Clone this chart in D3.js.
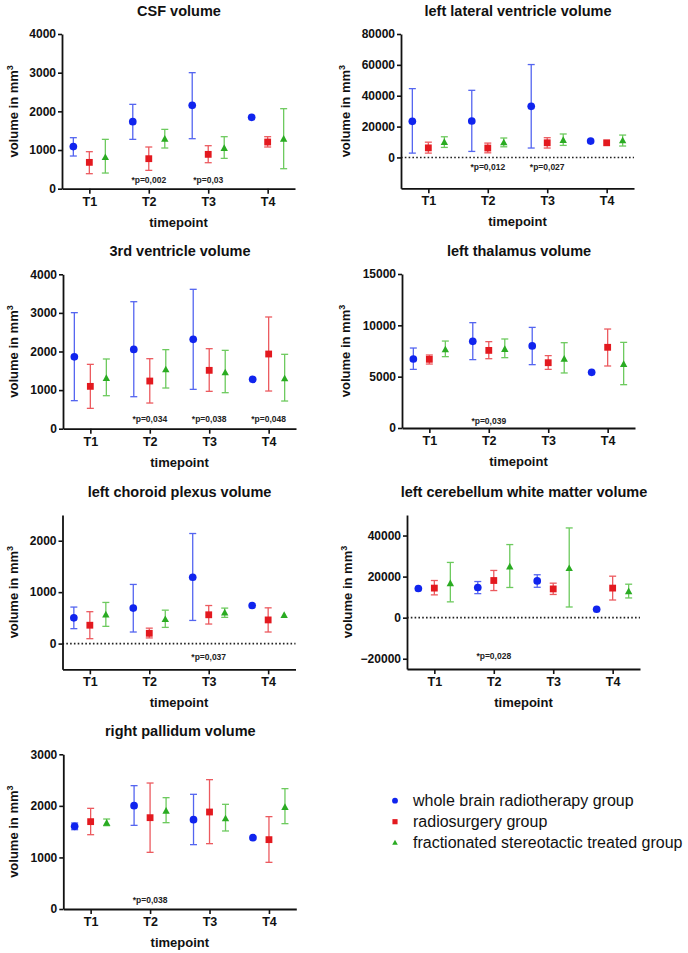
<!DOCTYPE html>
<html><head><meta charset="utf-8">
<script src="https://cdn.jsdelivr.net/npm/d3@7/dist/d3.min.js"></script>
<style>
html,body{margin:0;padding:0;background:#fff;}
svg{display:block;font-family:"Liberation Sans",Arial,Helvetica,sans-serif;}
</style></head>
<body>
<script>
const timepoints = ["T1","T2","T3","T4"];
const groups = ["whole brain radiotherapy group","radiosurgery group","fractionated stereotactic treated group"];
const markerColors = ["#1024ee","#e3191f","#2aab22"];
const barColors = ["#5465f0","#ec5a5f","#6dca5e"];
const shapes = ["circle","square","triangle"];

// CSF volume  (rows: groups, cols: T1..T4)
const csfMean = [[1090,1733,2155,1845],[681,776,888,1207],[810,1284,1043,1284]];
const csfLow  = [[845,1276,1293,null],[388,474,672,1078],[405,1052,784,517]];
const csfHigh = [[1319,2181,3000,null],[957,1078,1112,1345],[1276,1534,1345,2069]];
const csfP = [["T2","*p=0,002"],["T3","*p=0,03"]];

// left lateral ventricle volume
const llvMean = [[23400,23600,33100,10600],[6200,6100,9500,9500],[9800,9600,11100,10900]];
const llvLow  = [[2800,3900,6100,null],[2800,3000,6100,null],[6500,6900,7800,7400]];
const llvHigh = [[44600,43500,60200,null],[9900,9300,12800,null],[13400,12600,15200,14500]];
const llvP = [["T2","*p=0,012"],["T3","*p=0,027"]];

// 3rd ventricle volume
const v3Mean = [[1863,2055,2315,1278],[1097,1235,1512,1935],[1304,1529,1451,1296]];
const v3Low  = [[726,829,1019,null],[527,665,968,976],[855,1054,933,717]];
const v3High = [[3006,3290,3611,null],[1667,1814,2073,2894],[1806,2048,2030,1927]];
const v3P = [["T2","*p=0,034"],["T3","*p=0,038"],["T4","*p=0,048"]];

// left thalamus volume
const thMean = [[6720,8440,7990,5420],[6690,7560,6360,7860],[7630,7660,6720,6200]];
const thLow  = [[5710,6660,6170,null],[6230,6750,5710,6040],[6950,6850,5360,4220]];
const thHigh = [[7790,10260,9800,null],[7110,8410,7050,9640],[8470,8670,8310,8340]];
const thP = [["T2","*p=0,039"]];

// left choroid plexus volume
const cpMean = [[500,690,1290,740],[357,200,560,460],[560,470,600,550]];
const cpLow  = [[290,225,450,null],[95,110,380,225],[335,315,510,null]];
const cpHigh = [[710,1150,2140,null],[620,300,740,695],[800,650,690,null]];
const cpP = [["T3","*p=0,037"]];

// left cerebellum white matter volume
const cbMean = [[14200,14700,17900,4100],[14400,18100,14000,14400],[16600,24800,24000,12700]];
const cbLow  = [[null,11700,14800,null],[11100,13200,11300,8600],[7700,14700,5200,9600]];
const cbHigh = [[null,17600,20900,null],[18100,23000,16800,20200],[26900,35600,43700,16300]];
const cbP = [["T2","*p=0,028"]];

// right pallidum volume
const rpMean = [[1603,2004,1732,1383],[1694,1771,1881,1345],[1668,1900,1752,1972]];
const rpLow  = [[1538,1622,1248,null],[1441,1099,1267,905],[1616,1674,1513,1655]];
const rpHigh = [[1668,2392,2224,null],[1952,2443,2508,1791],[1745,2159,2030,2334]];
const rpP = [["T2","*p=0,038"]];

const panels = [
  {title:"CSF volume", mean:csfMean, low:csfLow, high:csfHigh, p:csfP, pY:217,
   domain:[0,4000], ticks:[0,1000,2000,3000,4000], zero:false,
   ax:62, top:34, bottom:188.7, ylabX:13},
  {title:"left lateral ventricle volume", mean:llvMean, low:llvLow, high:llvHigh, p:llvP, pY:-6300,
   domain:[-20000,80000], ticks:[0,20000,40000,60000,80000], zero:true,
   ax:401, top:34, bottom:188.3, ylabX:345},
  {title:"3rd ventricle volume", mean:v3Mean, low:v3Low, high:v3High, p:v3P, pY:243,
   domain:[0,4000], ticks:[0,1000,2000,3000,4000], zero:false,
   ax:63, top:274.3, bottom:428.7, ylabX:13},
  {title:"left thalamus volume", mean:thMean, low:thLow, high:thHigh, p:thP, pY:680,
   domain:[0,15000], ticks:[0,5000,10000,15000], zero:false,
   ax:402, top:274, bottom:428, ylabX:345},
  {title:"left choroid plexus volume", mean:cpMean, low:cpLow, high:cpHigh, p:cpP, pY:-253,
   domain:[-500,2500], ticks:[0,1000,2000], zero:true,
   ax:62.5, top:515, bottom:669.3, ylabX:13},
  {title:"left cerebellum white matter volume", mean:cbMean, low:cbLow, high:cbHigh, p:cbP, pY:-18800,
   domain:[-25000,50000], ticks:[-20000,0,20000,40000], zero:true,
   ax:407, top:515, bottom:669, ylabX:347},
  {title:"right pallidum volume", mean:rpMean, low:rpLow, high:rpHigh, p:rpP, pY:180,
   domain:[0,3000], ticks:[0,1000,2000,3000], zero:false,
   ax:63.3, top:754.3, bottom:909, ylabX:13}
];

const W = 688, H = 953, plotW = 233;
const svg = d3.select("body").append("svg").attr("width",W).attr("height",H);

function drawMarker(g, shape, color, cx, cy, size) {
  if (shape === "circle") {
    g.append("circle").attr("cx",cx).attr("cy",cy).attr("r",size*0.52).attr("fill",color);
  } else if (shape === "square") {
    const s = size*0.92;
    g.append("rect").attr("x",cx-s/2).attr("y",cy-s/2).attr("width",s).attr("height",s).attr("fill",color);
  } else {
    const s = size*1.0;
    const h = s*0.9;
    g.append("path").attr("d",`M${cx},${cy-h*0.6}L${cx+s/2},${cy+h*0.4}L${cx-s/2},${cy+h*0.4}Z`).attr("fill",color);
  }
}

panels.forEach(p => {
  const g = svg.append("g");
  const x = d3.scalePoint().domain(timepoints).range([p.ax, p.ax+plotW]).padding(0.46);
  const off = d3.scalePoint().domain(groups).range([-16,16]);
  const y = d3.scaleLinear().domain(p.domain).range([p.bottom, p.top]);

  g.append("text").attr("x",p.ax+117).attr("y",p.top-23).attr("dy","0.35em")
    .attr("text-anchor","middle").attr("font-weight","bold").attr("font-size",14.5)
    .attr("fill","#111").text(p.title);

  if (p.zero) {
    g.append("line").attr("x1",p.ax).attr("x2",p.ax+plotW).attr("y1",y(0)).attr("y2",y(0))
      .attr("stroke","#222").attr("stroke-width",1.6).attr("stroke-dasharray","1.6,2.2");
  }

  const ya = g.append("g").attr("transform",`translate(${p.ax},0)`)
    .call(d3.axisLeft(y).tickValues(p.ticks).tickSize(4).tickSizeOuter(0).tickPadding(2).tickFormat(d3.format("d")));
  ya.select(".domain").attr("stroke","#111").attr("stroke-width",1.8);
  ya.selectAll(".tick line").attr("stroke","#111").attr("stroke-width",1.6);
  ya.selectAll(".tick text").attr("font-size",12).attr("font-weight","bold").attr("fill","#111")
    .attr("font-family","'Liberation Sans',Arial,sans-serif");

  const xa = g.append("g").attr("transform",`translate(0,${p.bottom})`)
    .call(d3.axisBottom(x).tickSize(5).tickSizeOuter(0).tickPadding(3));
  xa.select(".domain").attr("stroke","#111").attr("stroke-width",1.8);
  xa.selectAll(".tick line").attr("stroke","#111").attr("stroke-width",1.6);
  xa.selectAll(".tick text").attr("font-size",12.5).attr("font-weight","bold").attr("fill","#111")
    .attr("font-family","'Liberation Sans',Arial,sans-serif");

  g.append("text").attr("x",p.ax+plotW/2).attr("y",p.bottom+33.5).attr("dy","0.35em")
    .attr("text-anchor","middle").attr("font-weight","bold").attr("font-size",13)
    .attr("fill","#111").text("timepoint");
  const yl = g.append("text")
    .attr("transform",`translate(${p.ylabX},${(p.top+p.bottom)/2}) rotate(-90)`)
    .attr("dy","0.35em").attr("text-anchor","middle").attr("font-weight","bold")
    .attr("font-size",13).attr("fill","#111");
  yl.append("tspan").text("volume in mm");
  yl.append("tspan").attr("dy",-5).attr("font-size",9).text("3");

  groups.forEach((grp, gi) => {
    timepoints.forEach((t, ti) => {
      const cx = x(t) + off(grp);
      const lo = p.low[gi][ti], hi = p.high[gi][ti];
      if (lo != null && hi != null) {
        const eb = g.append("g").attr("stroke",barColors[gi]).attr("stroke-width",1.3);
        eb.append("line").attr("x1",cx).attr("x2",cx).attr("y1",y(lo)).attr("y2",y(hi));
        eb.append("line").attr("x1",cx-3.5).attr("x2",cx+3.5).attr("y1",y(lo)).attr("y2",y(lo));
        eb.append("line").attr("x1",cx-3.5).attr("x2",cx+3.5).attr("y1",y(hi)).attr("y2",y(hi));
      }
      drawMarker(g, shapes[gi], markerColors[gi], cx, y(p.mean[gi][ti]), 7.4);
    });
  });

  p.p.forEach(([t, txt]) => {
    g.append("text").attr("x",x(t)).attr("y",y(p.pY)).attr("dy","0.35em")
      .attr("text-anchor","middle").attr("font-weight","bold").attr("font-size",8.5)
      .attr("fill","#222").text(txt);
  });
});

const lg = svg.append("g");
const legendY = [800.7, 821.7, 842.7];
groups.forEach((grp, gi) => {
  drawMarker(lg, shapes[gi], markerColors[gi], 395, legendY[gi], 5.6);
  lg.append("text").attr("x",413).attr("y",legendY[gi]).attr("dy","0.35em")
    .attr("font-size",16).attr("fill","#111").text(grp);
});
</script>
</body></html>
